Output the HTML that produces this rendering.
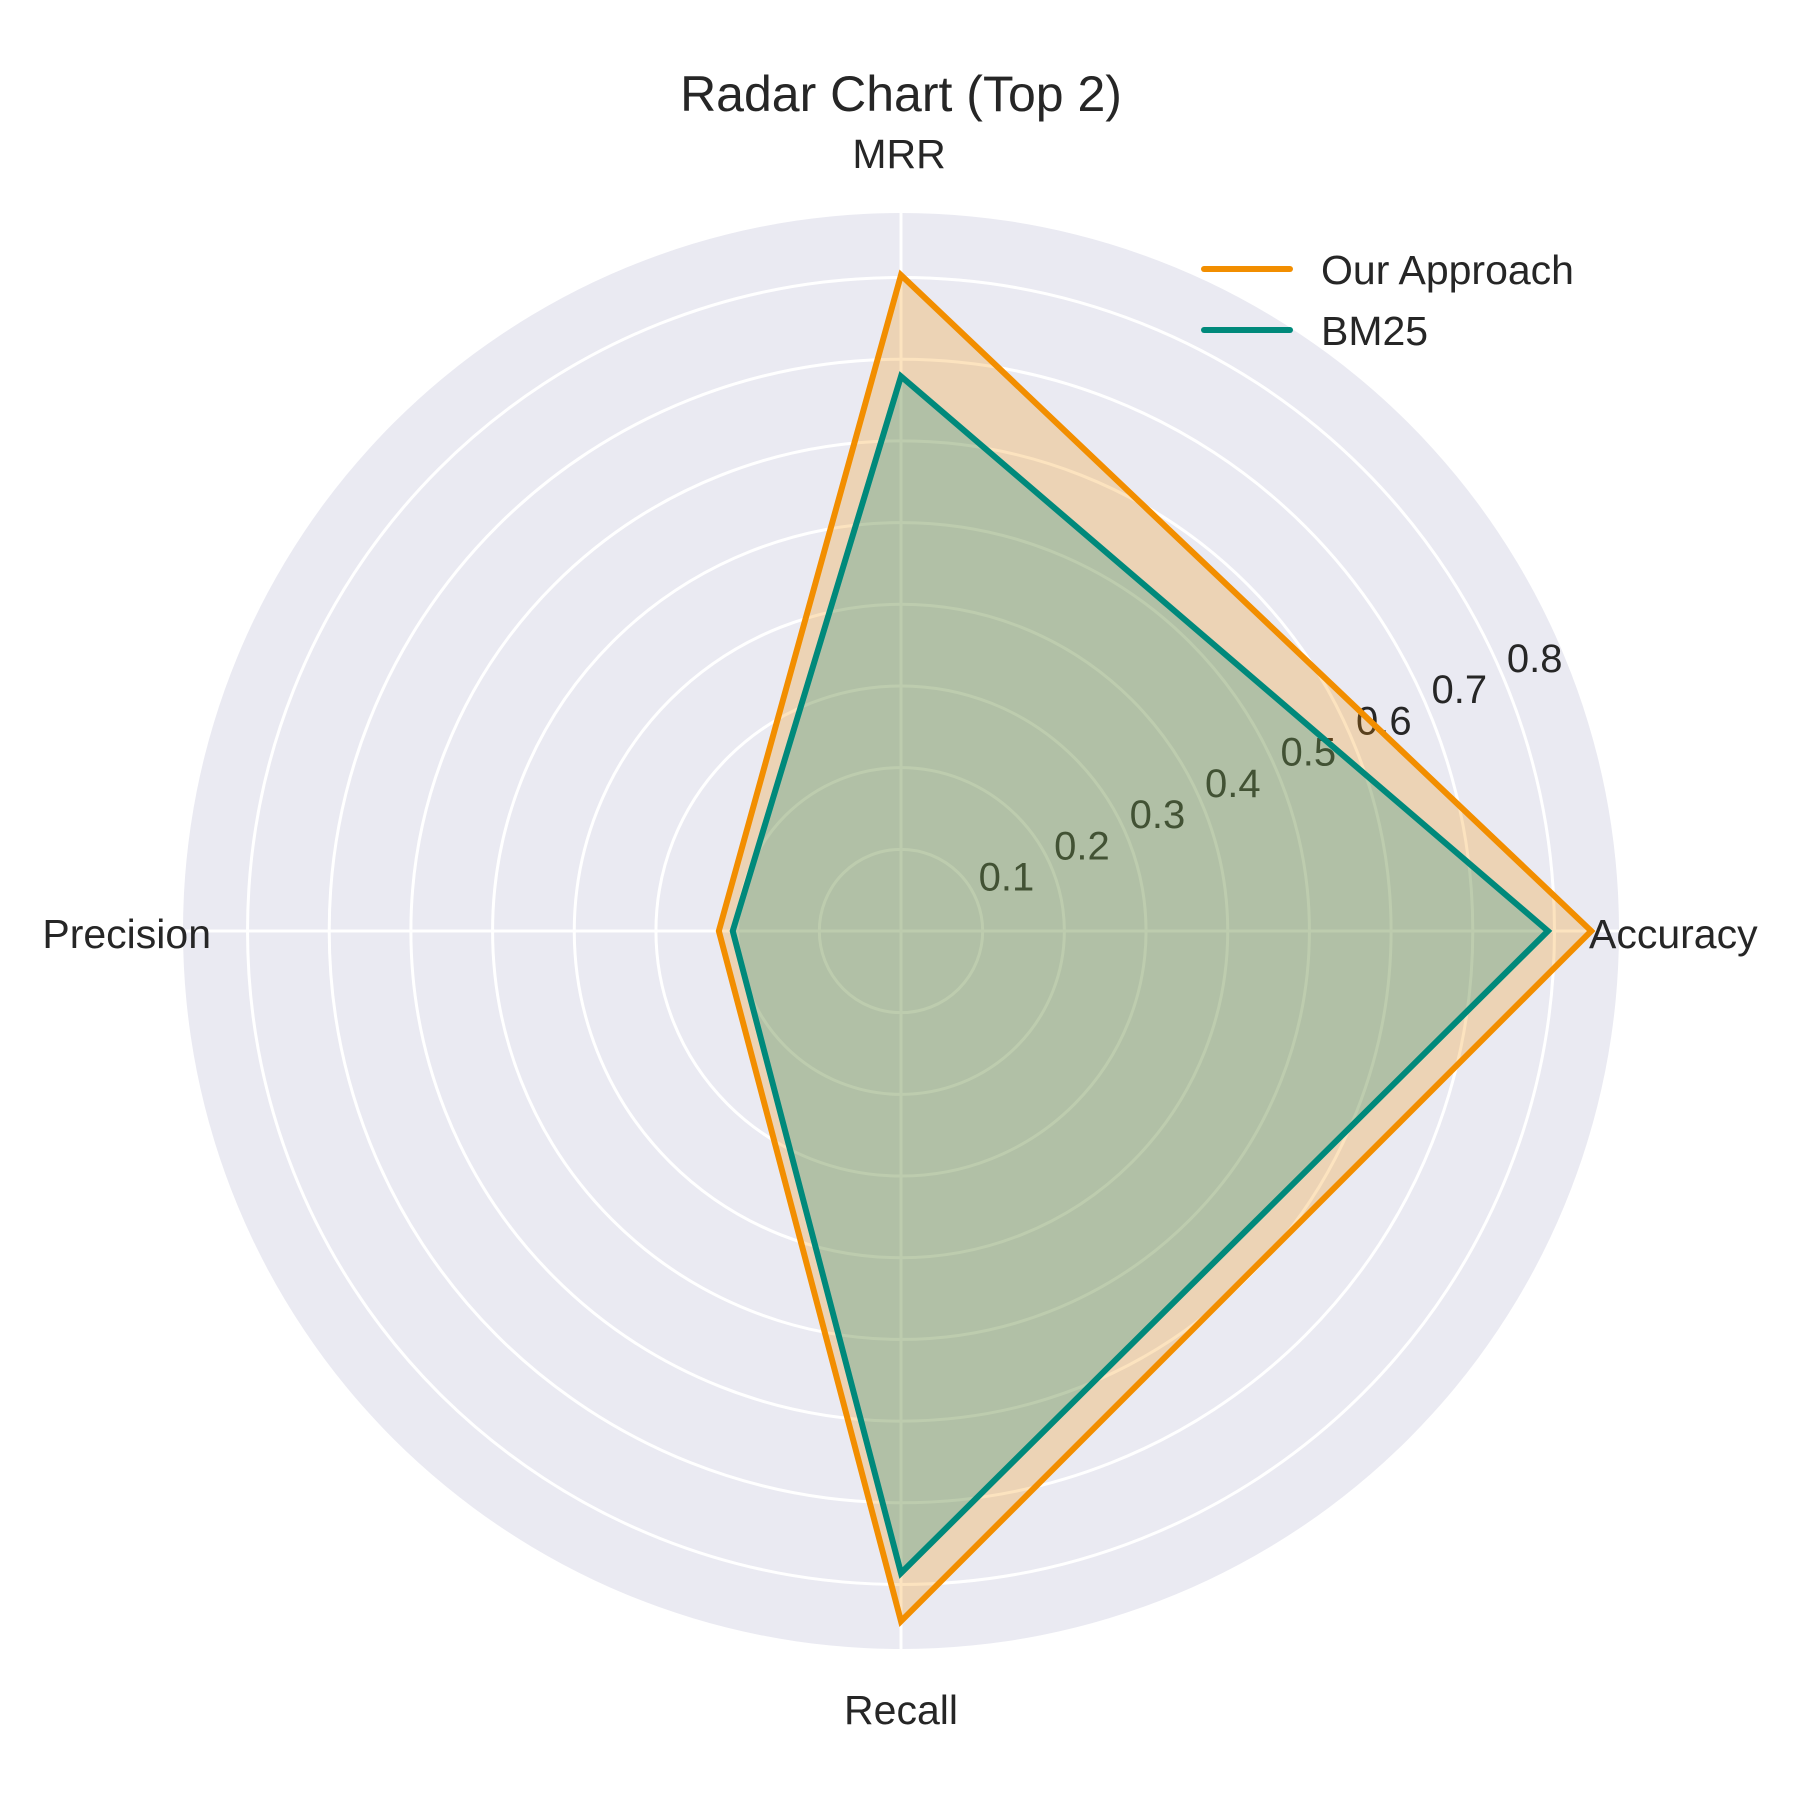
<!DOCTYPE html>
<html><head><meta charset="utf-8"><style>
html,body{margin:0;padding:0;background:#fff;}
svg{display:block;font-family:"Liberation Sans",sans-serif;}
</style></head><body>
<svg id="chart" width="1800" height="1800" viewBox="0 0 1800 1800" xmlns="http://www.w3.org/2000/svg">
<text x="901" y="111" text-anchor="middle" font-size="50" fill="#262626">Radar Chart (Top 2)</text>
<g id="grid"></g>
<g id="ticks"></g>
<g id="series"></g>
<g id="labels"></g>
<g>
<line x1="1204" y1="269" x2="1290" y2="269" stroke="#F28E00" stroke-width="6" stroke-linecap="round"/>
<text x="1321" y="284" font-size="41" fill="#262626">Our Approach</text>
<line x1="1204" y1="330" x2="1290" y2="330" stroke="#00897B" stroke-width="6" stroke-linecap="round"/>
<text x="1321" y="345" font-size="41" fill="#262626">BM25</text>
</g>
</svg>
<script>
const categories = ["Accuracy", "MRR", "Precision", "Recall"];
const ourApproach = [0.845, 0.803, 0.223, 0.845];
const bm25 = [0.792, 0.679, 0.206, 0.786];
const tickValues = [0.1, 0.2, 0.3, 0.4, 0.5, 0.6, 0.7, 0.8];
const tickLabels = ["0.1", "0.2", "0.3", "0.4", "0.5", "0.6", "0.7", "0.8"];
const rMax = 0.879;

const NS = "http://www.w3.org/2000/svg";
const cx = 901, cy = 931, R = 718;
function rScale(v){ return v / rMax * R; }
function angle(i){ return i * 2 * Math.PI / categories.length; }
function pt(i, v){ const a = angle(i), r = rScale(v); return [cx + r*Math.cos(a), cy - r*Math.sin(a)]; }
function mk(tag, attrs, parent){ const e = document.createElementNS(NS, tag); for (const k in attrs) e.setAttribute(k, attrs[k]); parent.appendChild(e); return e; }

const grid = document.getElementById('grid');
const bg = mk('circle', {cx:cx, cy:cy, r:R, fill:'#EAEAF2'}, grid);


tickValues.forEach((t, k) => {
  const c = mk('circle', {cx:cx, cy:cy, r:rScale(t), fill:'none', stroke:'#fff', 'stroke-width':3}, grid);
  
  
});
categories.forEach((c, i) => {
  const [x, y] = pt(i, rMax);
  const l = mk('line', {x1:cx, y1:cy, x2:x, y2:y, stroke:'#fff', 'stroke-width':3}, grid);
  
  
});

const tg = document.getElementById('ticks');
const la = 22.5 * Math.PI / 180;
tickValues.forEach((t, k) => {
  const r = rScale(t);
  const tx = mk('text', {x:cx + r*Math.cos(la) + 30, y:cy - r*Math.sin(la) - 9, 'text-anchor':'middle', 'font-size':40, fill:'#262626'}, tg);
  tx.textContent = tickLabels[k];
  
  
});

const sg = document.getElementById('series');
function drawSeries(vals, color, name){
  const pts = vals.map((v, i) => pt(i, v).join(',')).join(' ');
  const f = mk('polygon', {points:pts, fill:color, 'fill-opacity':0.25, stroke:'none'}, sg);
  
  
  const p = mk('polygon', {points:pts, fill:'none', stroke:color, 'stroke-width':6, 'stroke-linejoin':'miter'}, sg);
  
  
}
drawSeries(ourApproach, '#F28E00', 'our-approach');
drawSeries(bm25, '#00897B', 'bm25');

const lg = document.getElementById('labels');
const catPos = [
  {x:1589, y:948, a:'start'},
  {x:899, y:168, a:'middle'},
  {x:211, y:948, a:'end'},
  {x:901, y:1724, a:'middle'}
];
categories.forEach((c, i) => {
  const p = catPos[i];
  const tx = mk('text', {x:p.x, y:p.y, 'text-anchor':p.a, 'font-size':41, fill:'#262626'}, lg);
  tx.textContent = c;
  
  
});
</script>
</body></html>
